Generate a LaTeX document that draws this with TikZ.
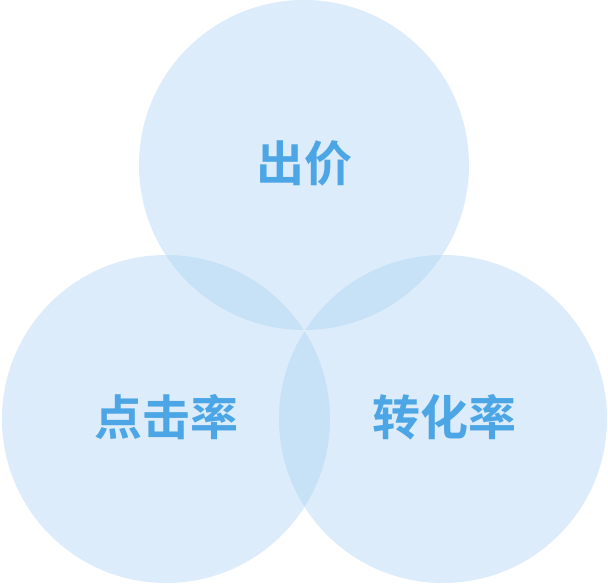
\documentclass[tikz,border=0pt]{standalone}
\usepackage{fontspec}
\newfontfamily\cjk{Noto Sans CJK SC}[BoldFont={Noto Sans CJK SC Bold}]
\definecolor{circfill}{RGB}{221,236,250}
\definecolor{lensfill}{RGB}{199,226,247}
\definecolor{labelblue}{RGB}{76,166,229}
\tikzset{
  venn/.style={fill=circfill, draw=none},
  lens/.style={fill=lensfill, draw=none},
  lbl/.style={text=labelblue, font=\cjk\bfseries\fontsize{48}{52}\selectfont, inner sep=0pt}
}
\begin{document}
\begin{tikzpicture}[x=1pt,y=-1pt]
\useasboundingbox (0,0) rectangle (608,586);
\fill[white] (0,0) rectangle (608,586);
\coordinate (ct) at (304,165);
\coordinate (cl) at (166,419);
\coordinate (cr) at (443,419);
\fill[venn] (ct) circle[radius=165];
\fill[venn] (cl) circle[radius=164];
\fill[venn] (cr) circle[radius=164];
\begin{scope}
  \clip (ct) circle[radius=165];
  \fill[lens] (cl) circle[radius=164];
  \fill[lens] (cr) circle[radius=164];
\end{scope}
\begin{scope}
  \clip (cl) circle[radius=164];
  \fill[lens] (cr) circle[radius=164];
\end{scope}
\node[lbl] (chujia) at (304,163) {出价};
\node[lbl] (djl) at (166,417) {点击率};
\node[lbl] (zhl) at (444,417) {转化率};
\end{tikzpicture}
\end{document}
